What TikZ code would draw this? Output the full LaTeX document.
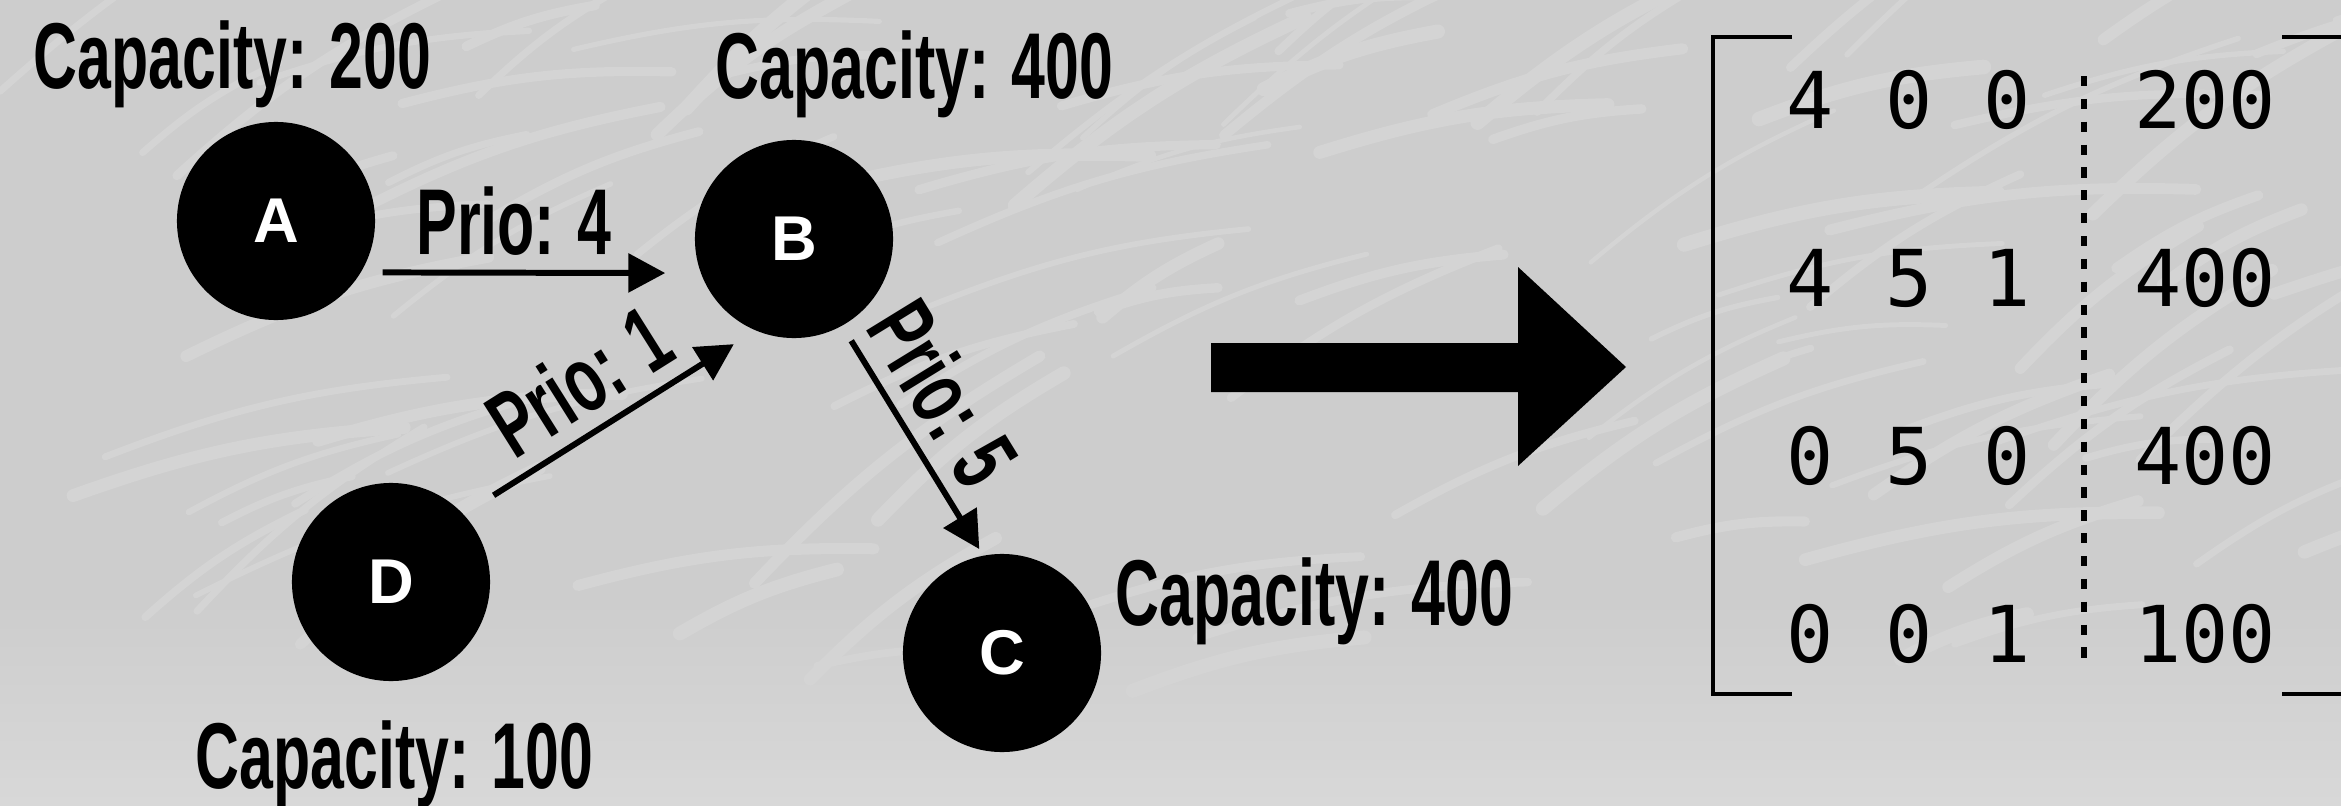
\documentclass[tikz,border=0pt]{standalone}
\usepackage{fontspec}
\usepackage{graphicx}
\usetikzlibrary{arrows.meta}
\newfontfamily\capfont{Liberation Sans}
\newfontfamily\nodefont{Liberation Sans}
\newfontfamily\matfont{DejaVu Sans Mono}
\newcommand{\narrow}[1]{\scalebox{0.65}[1]{#1}}
\definecolor{bgdark}{HTML}{CDCDCD}
\definecolor{bglight}{HTML}{D8D8D8}
\definecolor{streakgray}{HTML}{D4D4D4}
\tikzset{
  station/.style={circle, fill=black, text=white, minimum size=1.98cm, inner sep=0pt,
    font=\nodefont\bfseries\fontsize{18}{20}\selectfont},
  capacity/.style={anchor=base west, inner sep=0pt,
    font=\capfont\bfseries\fontsize{26.6}{30}\selectfont},
  prio/.style={line width=1.7pt, -{Triangle[length=10.5pt,width=10.8pt]}},
  priolabel/.style={above, sloped, inner sep=1.4mm,
    font=\capfont\bfseries\fontsize{26.6}{30}\selectfont},
  entry/.style={inner sep=0pt, font=\matfont\fontsize{22.3}{24}\selectfont},
  bracket/.style={line width=1pt},
  streak/.style={streakgray, line cap=round},
}
\begin{document}
\begin{tikzpicture}[x=0.01cm, y=-0.01cm]
  \useasboundingbox (0,0) rectangle (2341,806);

  % paper background
  \fill[bgdark] (0,0) rectangle (2341,806);
  \shade[top color=bgdark, bottom color=bglight] (0,600) rectangle (2341,806);
  \pgfmathsetseed{7}
  \foreach \k in {1,...,110}{
    \pgfmathsetmacro\sx{rnd*2341}
    \pgfmathsetmacro\sy{rnd*700}
    \pgfmathsetmacro\sa{-5-rnd*35}
    \pgfmathsetmacro\sl{120+rnd*260}
    \pgfmathsetmacro\sw{1.2+rnd*3}
    \draw[streak, line width=\sw pt] (\sx,\sy) to[bend left=8] +(\sa:\sl);
  }

  % the network
  \node[station] (A) at (276,221) {A};
  \node[station] (B) at (794,239) {B};
  \node[station] (C) at (1002,653) {C};
  \node[station] (D) at (391,582) {D};

  \node[capacity] (capA) at (33,88) {\narrow{Capacity: 200}};
  \node[capacity] (capB) at (715,98) {\narrow{Capacity: 400}};
  \node[capacity] (capC) at (1115,625) {\narrow{Capacity: 400}};
  \node[capacity] (capD) at (195,788) {\narrow{Capacity: 100}};

  \draw[prio, shorten <=0.21cm, shorten >=0.35cm] (A.-31) -- (B.200)
    node[priolabel, pos=0.45] (p4) {\narrow{Prio: 4}};
  \draw[prio, shorten <=0.35cm, shorten >=0.25cm] (D.43) -- (B.247)
    node[priolabel, pos=0.49] (p1) {\narrow{Prio: 1}};
  \draw[prio, shorten <=0.17cm, shorten >=0.07cm] (B.-61) -- (C.101)
    node[priolabel, pos=0.41] (p5) {\narrow{Prio: 5}};

  % big arrow
  \fill (1211,343) -- (1518,343) -- (1518,267) -- (1626,367)
    -- (1518,466) -- (1518,392) -- (1211,392) -- cycle;

  % augmented matrix
  \draw[bracket] (1792,37) -- (1713,37) -- (1713,694) -- (1792,694);
  \draw[bracket] (2282,37) -- (2380,37) -- (2380,694) -- (2282,694);
  \foreach \a/\b/\c/\v [count=\r] in {4/0/0/200, 4/5/1/400, 0/5/0/400, 0/0/1/100}{
    \pgfmathsetmacro\ry{100+178*(\r-1)}
    \node[entry] (m\r-1) at (1810,\ry) {\a};
    \node[entry] (m\r-2) at (1909,\ry) {\b};
    \node[entry] (m\r-3) at (2007,\ry) {\c};
    \node[entry] (m\r-4) at (2205,\ry) {\v};
  }
  \draw[line width=1.5pt, dash pattern=on 2.9pt off 3.6pt] (2084,76) -- (2084,663);
\end{tikzpicture}
\end{document}
